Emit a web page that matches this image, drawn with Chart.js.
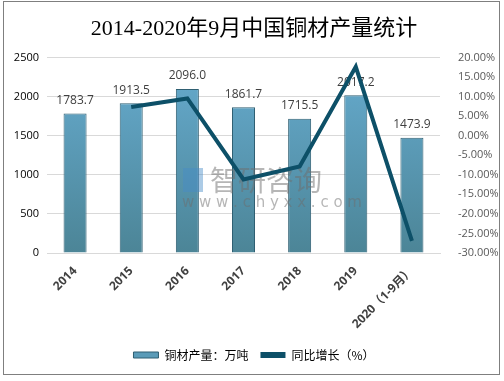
<!DOCTYPE html>
<html>
<head>
<meta charset="utf-8">
<script src="https://cdn.jsdelivr.net/npm/chart.js@4/dist/chart.umd.min.js"></script>
<style>
  body { margin: 0; background: #fff; }
  #wrap { position: relative; width: 504px; height: 381px; }
  #frame { position: absolute; left: 3px; top: 1px; width: 495px; height: 372px; border: 1px solid #7f7f7f; pointer-events: none; }
</style>
</head>
<body>
<div id="wrap">
  <canvas id="copper_chart" width="504" height="381"></canvas>
  <div id="frame"></div>
</div>
<script>
// 데이터
const years = ['2014', '2015', '2016', '2017', '2018', '2019', '2020（1-9月）']
const output = [1783.7, 1913.5, 2096.0, 1861.7, 1715.5, 2017.2, 1473.9]
const growth = [null, 7.3, 9.5, -11.2, -7.9, 17.6, -26.9]
const leftTicks = [0, 500, 1000, 1500, 2000, 2500]
const rightTicks = [-30, -25, -20, -15, -10, -5, 0, 5, 10, 15, 20]

// 막대 위 숫자 + 워터마크
const barLabels = {
	id: 'barLabels',
	afterDatasetDraw(chart, args) {
		if (args.index !== 0) return
		const ctx = chart.ctx
		const meta = chart.getDatasetMeta(0)
		ctx.save()
		ctx.font = '12px "Open Sans", sans-serif'
		ctx.fillStyle = '#404040'
		ctx.textAlign = 'center'
		ctx.textBaseline = 'bottom'
		meta.data.forEach((bar, i) => {
			ctx.fillText(output[i].toFixed(1), bar.x, bar.y - 7)
		})
		// 워터마크
		ctx.textAlign = 'left'
		ctx.textBaseline = 'middle'
		ctx.fillStyle = 'rgba(110,110,110,0.5)'
		ctx.font = '28px "Noto Sans CJK SC"'
		ctx.fillText('智研咨询', 210, 180)
		ctx.font = '15px "DejaVu Sans"'
		ctx.fillText('w w w . c h y x x . c o m', 182, 203)
		ctx.fillStyle = 'rgba(70,140,200,0.45)'
		ctx.fillRect(183, 168, 20, 24)
		ctx.restore()
	}
}

const ctx = document.getElementById('copper_chart').getContext('2d')
const grad = ctx.createLinearGradient(0, 57, 0, 252)
grad.addColorStop(0, '#67acd0')
grad.addColorStop(1, '#4c8597')

new Chart(ctx, {
	type: 'bar',
	data: {
		labels: years,
		datasets: [{
			type: 'bar',
			label: '铜材产量：万吨',
			data: output,
			yAxisID: 'y',
			backgroundColor: grad,
			borderColor: '#2f5f72',
			borderWidth: 1,
			barPercentage: 0.41,
			categoryPercentage: 1,
			order: 2
		}, {
			type: 'line',
			label: '同比增长（%）',
			data: growth,
			yAxisID: 'y1',
			borderColor: '#0d5068',
			backgroundColor: '#0d5068',
			borderWidth: 4,
			pointRadius: 0,
			tension: 0,
			spanGaps: false,
			order: 1
		}]
	},
	options: {
		responsive: false,
		animation: false,
		layout: { padding: { top: 0, left: 10, right: 6, bottom: 10 } },
		plugins: {
			title: {
				display: true,
				text: '2014-2020年9月中国铜材产量统计',
				font: { family: '"Liberation Serif", "Noto Sans CJK SC"', size: 22, weight: 'normal' },
				color: '#000',
				padding: { top: 16, bottom: 15 }
			},
			legend: {
				position: 'bottom',
				labels: {
					boxWidth: 25,
					boxHeight: 6,
					padding: 12,
					font: { family: '"Noto Sans CJK SC"', size: 12 },
					color: '#404040',
					generateLabels(chart) {
						return [
							{ text: '铜材产量：万吨', fillStyle: '#5a9bb8', strokeStyle: '#2f5f72', lineWidth: 1, datasetIndex: 0 },
							{ text: '同比增长（%）', fillStyle: '#0d5068', strokeStyle: '#0d5068', lineWidth: 0, datasetIndex: 1 }
						]
					}
				}
			},
			tooltip: { enabled: false }
		},
		scales: {
			x: {
				grid: { display: false },
				border: { color: '#d9d9d9' },
				ticks: {
					color: '#404040',
					font: { family: '"Open Sans", "Noto Sans CJK SC"', size: 12, weight: 'bold' },
					maxRotation: 45,
					minRotation: 45
				},
				afterFit(scale) { scale.height = 84 }
			},
			y: {
				position: 'left',
				min: 0,
				max: 2500,
				afterBuildTicks(scale) { scale.ticks = leftTicks.map(v => ({ value: v })) },
				grid: { color: '#d9d9d9', drawTicks: false },
				border: { display: false },
				ticks: { color: '#000', font: { family: '"Open Sans"', size: 11 }, padding: 8, callback: v => String(v) },
				afterFit(scale) { scale.width = 37 }
			},
			y1: {
				position: 'right',
				min: -30,
				max: 20,
				afterBuildTicks(scale) { scale.ticks = rightTicks.map(v => ({ value: v })) },
				grid: { display: false },
				border: { display: false },
				ticks: {
					color: '#595959',
					font: { family: '"Open Sans"', size: 11 },
					padding: 10,
					callback: v => v.toFixed(2) + '%'
				},
				afterFit(scale) { scale.width = 58 }
			}
		}
	},
	plugins: [barLabels]
})
</script>
</body>
</html>
